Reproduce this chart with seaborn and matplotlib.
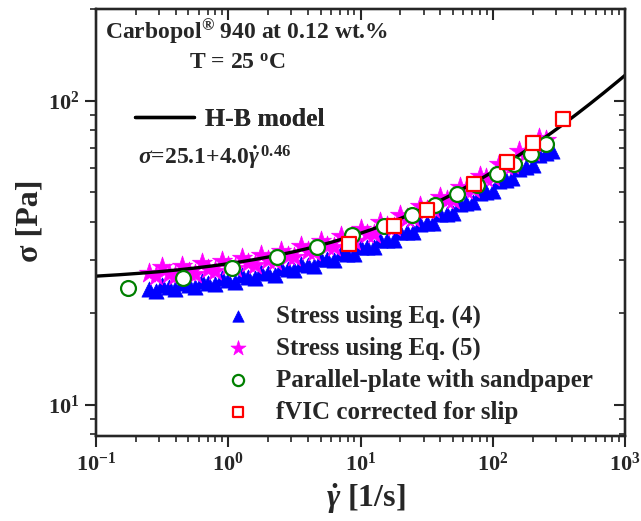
import numpy as np
import pandas as pd
import matplotlib
matplotlib.use("Agg")
import matplotlib.pyplot as plt
import seaborn as sns
from matplotlib.lines import Line2D

# ---------------- data ----------------
rate_eq = [0.251, 0.282, 0.316, 0.355, 0.398, 0.447, 0.501, 0.562, 0.631, 0.708,
           0.794, 0.891, 1.00, 1.12, 1.26, 1.41, 1.58, 1.78, 2.00, 2.24,
           2.51, 2.82, 3.16, 3.55, 3.98, 4.47, 5.01, 5.62, 6.31, 7.08,
           7.94, 8.91, 10.0, 11.2, 12.6, 14.1, 15.8, 17.8, 20.0, 22.4,
           25.1, 28.2, 31.6, 35.5, 39.8, 44.7, 50.1, 56.2, 63.1, 70.8,
           79.4, 89.1, 100, 112, 126, 141, 158, 178, 200, 224,
           251, 282]
stress_eq4 = [24.1, 23.7, 24.8, 24.4, 24.0, 25.2, 24.8, 24.4, 25.6, 25.2,
              24.9, 26.1, 25.8, 25.4, 26.7, 26.4, 26.1, 27.4, 27.1, 26.8,
              28.2, 27.9, 27.7, 29.1, 28.9, 28.7, 30.2, 30.1, 29.9, 31.5,
              31.4, 31.3, 33.1, 33.0, 32.9, 34.9, 34.8, 34.8, 37.0, 37.0,
              37.1, 39.4, 39.6, 39.7, 42.3, 42.5, 42.8, 45.7, 46.0, 46.4,
              49.7, 50.1, 50.6, 54.3, 54.9, 55.6, 59.8, 60.6, 61.4, 66.2,
              67.2, 68.3]
stress_eq5 = [27.2, 26.5, 28.3, 27.0, 26.6, 28.7, 27.4, 27.0, 29.2, 27.9,
              27.6, 29.8, 28.5, 28.1, 30.4, 29.2, 28.8, 31.2, 30.0, 29.7,
              32.1, 30.9, 30.6, 33.2, 32.0, 31.7, 34.5, 33.3, 33.1, 36.0,
              34.8, 34.6, 37.7, 36.5, 36.4, 39.8, 38.6, 38.5, 42.2, 41.0,
              41.0, 45.0, 43.8, 43.9, 48.3, 47.1, 47.3, 52.1, 51.0, 51.3,
              56.7, 55.5, 56.0, 62.0, 60.8, 61.5, 68.2, 67.1, 68.0, 75.5,
              74.4]
rate_pp = [0.175, 0.455, 1.07, 2.34, 4.69, 8.6, 15.1, 24.5, 36.6, 53.7,
           76, 108, 145, 195, 253]
stress_pp = [24.3, 26.2, 28.2, 30.7, 33.1, 36.2, 38.7, 42.0, 45.4, 49.3,
             52.7, 57.3, 61.8, 66.7, 71.8]
rate_fvic = [8.18, 17.9, 31.8, 72.1, 128, 202, 340]
stress_fvic = [33.8, 38.7, 43.7, 53.1, 62.7, 72.3, 87.3]

# Herschel-Bulkley model parameters (as printed on the chart)
hb_tau0, hb_K, hb_n = 25.1, 4.0, 0.46
hb_rate = np.logspace(-1, 3, 300)
hb_stress = hb_tau0 + hb_K * hb_rate ** hb_n

labels = ["Stress using Eq. (4)", "Stress using Eq. (5)",
          "Parallel-plate with sandpaper", "fVIC corrected for slip"]

# ---------------- style ----------------
sns.set_style("ticks")
plt.rcParams["font.family"] = ["Liberation Serif", "DejaVu Serif"]
plt.rcParams["font.weight"] = "bold"
plt.rcParams["mathtext.fontset"] = "custom"
plt.rcParams["mathtext.rm"] = "Liberation Serif:bold"
plt.rcParams["mathtext.it"] = "Liberation Serif:italic:bold"
plt.rcParams["mathtext.bf"] = "Liberation Serif:bold"
plt.rcParams["axes.linewidth"] = 1.6
plt.rcParams["axes.unicode_minus"] = False

fig = plt.figure(figsize=(6.41, 5.21), dpi=100)
ax = fig.add_axes([96 / 641, 1 - 436 / 521, 529 / 641, 427 / 521])

df4 = pd.DataFrame({"x": rate_eq, "y": stress_eq4})
df5 = pd.DataFrame({"x": rate_eq[:len(stress_eq5)], "y": stress_eq5})
dpp = pd.DataFrame({"x": rate_pp, "y": stress_pp})
dfv = pd.DataFrame({"x": rate_fvic, "y": stress_fvic})
dhb = pd.DataFrame({"x": hb_rate, "y": hb_stress})

sns.scatterplot(data=df4, x="x", y="y", ax=ax, marker="^", s=120, color="#0000ff",
                edgecolor="#0000ff", linewidth=0.5, label=labels[0], zorder=2)
sns.scatterplot(data=df5, x="x", y="y", ax=ax, marker="*", s=230, color="#ff00ff",
                edgecolor="#ff00ff", linewidth=0.5, label=labels[1], zorder=3)
sns.lineplot(data=dhb, x="x", y="y", ax=ax, color="black", linewidth=2.4,
             zorder=4, legend=False)
sns.scatterplot(data=dpp, x="x", y="y", ax=ax, marker="o", s=115, facecolor="white",
                edgecolor="#008000", linewidth=1.6, label=labels[2], zorder=5)
sns.scatterplot(data=dfv, x="x", y="y", ax=ax, marker="s", s=100, facecolor="white",
                edgecolor="#ff0000", linewidth=1.6, label=labels[3], zorder=6)

ax.set_xscale("log")
ax.set_yscale("log")
ax.set_xlim(0.1, 1000)
ax.set_ylim(7.9, 200)

ax.tick_params(axis="both", which="major", direction="out", length=8, width=1.5,
               labelsize=16, pad=4)
ax.tick_params(axis="both", which="minor", direction="out", length=4.5, width=1.2)
ax.yaxis.set_minor_formatter(matplotlib.ticker.NullFormatter())

# top / right ticks pointing inward
tx = ax.twiny()
tx.set_xscale("log"); tx.set_xlim(ax.get_xlim())
tx.tick_params(axis="x", which="major", direction="in", length=8, width=1.5, labeltop=False)
tx.tick_params(axis="x", which="minor", direction="in", length=4.5, width=1.2)
ty = ax.twinx()
ty.set_yscale("log"); ty.set_ylim(ax.get_ylim())
ty.tick_params(axis="y", which="major", direction="in", length=8, width=1.5, labelright=False)
ty.tick_params(axis="y", which="minor", direction="in", length=4.5, width=1.2, labelright=False)
ty.yaxis.set_minor_formatter(matplotlib.ticker.NullFormatter())
ty.yaxis.set_major_formatter(matplotlib.ticker.NullFormatter())
tx.xaxis.set_major_formatter(matplotlib.ticker.NullFormatter())

ax.set_xlabel(r"$\dot{\gamma}$ [1/s]", fontsize=23, fontweight="bold")
ax.set_ylabel("σ [Pa]", fontsize=23, fontweight="bold")
ax.xaxis.set_label_coords(0.51, -0.105)
ax.yaxis.set_label_coords(-0.097, 0.503)

# data legend
handles, labs = ax.get_legend_handles_labels()
leg = ax.legend(handles, labs, loc="lower left", bbox_to_anchor=(0.245, 0.028),
                frameon=False, borderpad=0, borderaxespad=0,
                handlelength=1.0, handletextpad=1.0, labelspacing=0.36,
                markerscale=0.75, prop={"weight": "bold", "size": 18})
ax.add_artist(leg)

# model legend
hb_handle = Line2D([], [], color="black", linewidth=2.4)
leg2 = ax.legend([hb_handle], ["H-B model"], loc="upper left",
                 bbox_to_anchor=(0.074, 0.768), frameon=False, borderpad=0,
                 borderaxespad=0, handlelength=2.3, handletextpad=0.4,
                 prop={"weight": "bold", "size": 18.5})
ax.add_artist(leg2)

ax.text(0.079, 0.651, r"$\sigma$=25.1+4.0$\dot{\gamma}^{\,0.46}$", transform=ax.transAxes,
        fontsize=17, fontweight="bold", va="center", ha="left")
ax.text(0.017, 0.946, r"Carbopol$^{®}$ 940 at 0.12 wt.%", transform=ax.transAxes,
        fontsize=17, fontweight="bold", va="center", ha="left")
ax.text(0.267, 0.874, r"T = 25 $^{\rm o}$C", transform=ax.transAxes,
        fontsize=17, fontweight="bold", va="center", ha="center")

for a in (ax, tx, ty):
    for sp in a.spines.values():
        sp.set_linewidth(1.6)

fig.savefig("out.png", dpi=100)
